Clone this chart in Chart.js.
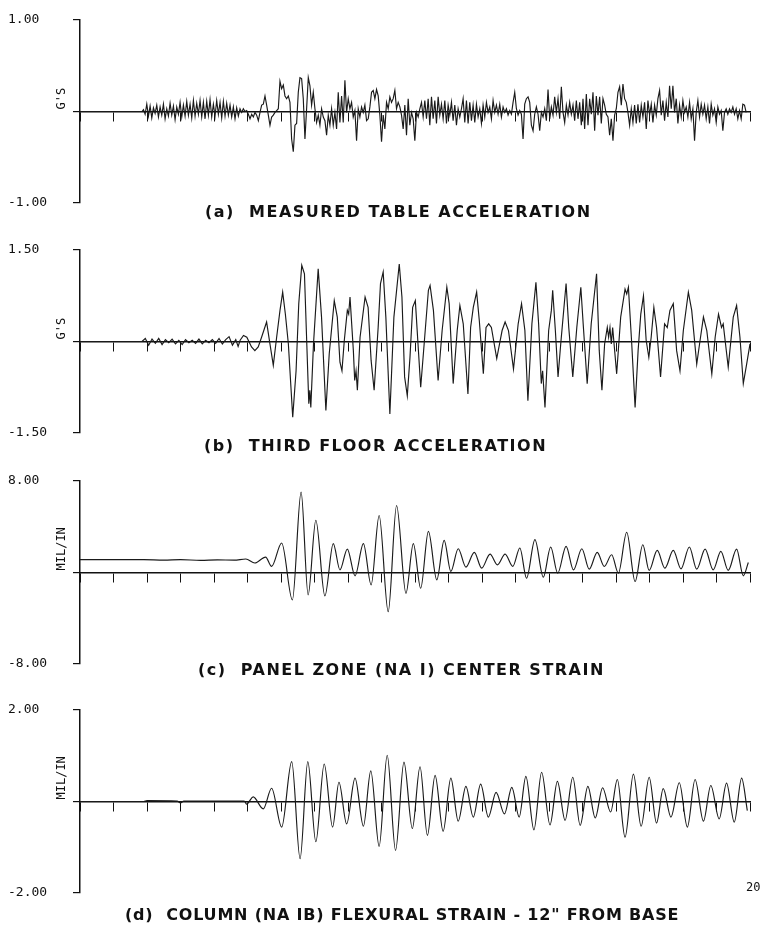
<!DOCTYPE html>
<html>
<head>
<meta charset="utf-8">
<script src="https://cdn.jsdelivr.net/npm/chart.js@4.4.0/dist/chart.umd.min.js"></script>
<style>
  body { margin: 0; background: #fff; width: 762px; height: 928px; position: relative; overflow: hidden; }
  canvas { position: absolute; left: 0; }
  .cap { position: absolute; font: bold 16px 'DejaVu Sans', sans-serif; letter-spacing: 1.5px; white-space: pre; color: #111; }
  .end { position: absolute; font: 12px 'DejaVu Sans Mono', monospace; color: #111; }
</style>
</head>
<body>
<canvas id="panelA" width="762" height="213" style="top:5px"></canvas>
<canvas id="panelB" width="762" height="213" style="top:235px"></canvas>
<canvas id="panelC" width="762" height="213" style="top:466px"></canvas>
<canvas id="panelD" width="762" height="213" style="top:695px"></canvas>
<div class="cap" style="left:205px;top:202px">(a)  MEASURED TABLE ACCELERATION</div>
<div class="cap" style="left:204px;top:436px">(b)  THIRD FLOOR ACCELERATION</div>
<div class="cap" style="left:198px;top:660px">(c)  PANEL ZONE (NA I) CENTER STRAIN</div>
<div class="cap" style="left:125px;top:905px;letter-spacing:0.8px">(d)  COLUMN (NA IB) FLEXURAL STRAIN - 12" FROM BASE</div>
<div class="end" style="left:746px;top:880px">20</div>
<script>
(() => {
    'use strict'

    // time axis (seconds)
    const T_MIN = 0
    const T_MAX = 20

    // (a) table acceleration, G's -- read as a record sampled every DT seconds
    const TABLE_LEAD = [[0, 0], [1.85, 0]]
    const TABLE_T0 = 1.894
    const TABLE_DT = 0.0497
    const TABLE_ACC = [
        0.02, -0.03, 0.08, -0.05, 0.06, -0.07, 0.04, -0.02, 0.07, -0.06,
        0.05, -0.04, 0.08, -0.08, 0.03, -0.05, 0.09, -0.04, 0.06, -0.09,
        0.05, -0.03, 0.10, -0.06, 0.07, -0.05, 0.11, -0.04, 0.08, -0.07,
        0.12, -0.05, 0.09, -0.03, 0.12, -0.06, 0.10, -0.08, 0.11, -0.04,
        0.13, -0.06, 0.08, -0.05, 0.12, -0.03, 0.10, -0.07, 0.11, -0.05,
        0.09, -0.04, 0.07, -0.06, 0.05, -0.08, 0.04, -0.05,
        0.03, -0.01, 0.03, 0, 0.01, -0.03, -0.08, -0.03, -0.06, -0.01,
        -0.04, -0.10, -0.01, 0.07, 0.08, 0.17, 0.07, -0.04, -0.15, -0.06,
        -0.04, -0.01, 0.01, 0.03, 0.33, 0.25, 0.29, 0.17, 0.14, 0.17,
        0.10, -0.30, -0.44, -0.15, -0.13, 0.21, 0.37, 0.36, 0.14, -0.30,
        0.03, 0.37, 0.28, 0.07, 0.21, 0.03, -0.12, -0.04, -0.15, 0.03,
        -0.06, -0.10, -0.26, -0.04, -0.15, 0.03, -0.15, -0.01, -0.19, 0.21,
        -0.12, 0.17, -0.12, 0.34, -0.01, 0.14, 0.03, 0.10, -0.06, 0.01,
        -0.32, 0.03, -0.06, 0.05, -0.01, 0.07, -0.10, -0.08, 0.05, 0.21,
        0.23, 0.14, 0.24, 0.17, -0.04, -0.33, -0.04, -0.19, 0.10, 0.03,
        0.16, 0.10, 0.14, 0.23, 0.03, 0.10, 0.05, -0.04, -0.19, 0.07,
        -0.26, 0.14, -0.15, -0.01, -0.08, -0.32, -0.01, -0.06, 0.03, 0.10,
        -0.06, 0.12, -0.08, 0.14, -0.15, 0.16, -0.08, 0.12, -0.13, 0.16,
        -0.04, 0.08, -0.08, 0.12, -0.13, 0.07, -0.04, 0.10, -0.10, 0.07,
        -0.15, 0.03, -0.06, 0.03, 0.14, -0.12, 0.12, -0.13, 0.10, -0.10,
        0.07, -0.12, 0.08, -0.06, 0.03, -0.13, 0.07, -0.06, 0.10, -0.01,
        0.05, -0.08, 0.12, -0.01, 0.07, -0.03, 0.08, -0.06, 0.05, -0.01,
        0.03, -0.04, 0.01, -0.03, 0.10, 0.21, 0.03, -0.04, 0.01, -0.03,
        -0.30, 0.08, 0.14, 0.16, 0.10, -0.15, -0.21, -0.03, 0.05, -0.03,
        -0.21, -0.01, -0.06, 0.03, -0.10, 0.24, -0.08, 0.05, -0.04, 0.16,
        -0.01, 0.14, -0.08, 0.27, -0.01, -0.12, 0.07, -0.04, 0.10, -0.03,
        0.07, -0.10, 0.12, -0.08, 0.10, -0.15, 0.14, -0.19, 0.19, -0.15,
        0.14, -0.03, 0.21, -0.21, 0.17, -0.04, 0.16, -0.13, 0.14, 0.07,
        -0.03, -0.06, -0.26, -0.08, -0.32, -0.04, 0.03, 0.21, 0.27, 0.07,
        0.30, 0.14, 0.10, -0.01, -0.15, 0.03, -0.12, 0.07, -0.13, 0.08,
        -0.12, 0.07, -0.06, 0.10, -0.19, 0.12, -0.04, 0.08, -0.12, 0.07,
        -0.04, 0.14, 0.23, -0.04, 0.12, -0.10, 0.10, -0.06, 0.28, 0.03,
        0.28, -0.01, 0.14, -0.13, 0.07, -0.06, 0.12, -0.01, 0.05, -0.06,
        0.10, -0.08, 0.03, -0.32, -0.01, 0.12, -0.06, 0.08, -0.03, 0.07,
        -0.08, 0.05, -0.13, 0.08, -0.04, 0.03, -0.12, 0.05, -0.03, 0.01,
        -0.21, -0.01, 0.03, -0.03, 0.03, -0.01, 0.05, -0.03, 0.03, -0.08,
        0.01, -0.08, 0.08, 0.07, -0.01,
    ]

    // (b) third floor acceleration, G's  [time, value]
    const FLOOR_ACC = [
        [0, 0], [1.85, 0], [1.95, 0.05], [2.05, -0.06], [2.15, 0.04], [2.25, -0.03], [2.35, 0.05], [2.45, -0.05],
        [2.55, 0.03], [2.65, -0.02], [2.75, 0.04], [2.85, -0.04], [2.95, 0.02], [3.05, -0.05], [3.15, 0.03],
        [3.25, -0.02], [3.35, 0.02], [3.45, -0.03], [3.55, 0.04], [3.65, -0.04], [3.75, 0.02], [3.85, -0.02],
        [3.95, 0.03], [4.05, -0.03], [4.15, 0.05], [4.25, -0.04], [4.35, 0.03], [4.45, 0.08], [4.55, -0.06],
        [4.65, 0.03], [4.72, -0.08],
        [4.78, 0.02], [4.88, 0.10], [4.98, 0.07], [5.12, -0.09], [5.22, -0.15], [5.32, -0.09], [5.42, 0.07], [5.57, 0.32], [5.67, -0.04], [5.77, -0.39],
        [5.87, 0.07], [5.97, 0.51], [6.05, 0.81], [6.13, 0.45], [6.22, -0.04], [6.35, -1.24], [6.45, -0.48], [6.53, 0.62], [6.62, 1.25], [6.70, 1.11],
        [6.77, -0.04], [6.83, -1.02], [6.86, -0.80], [6.89, -1.08], [6.97, -0.04], [7.11, 1.19], [7.21, 0.40], [7.34, -1.13], [7.44, -0.20], [7.59, 0.67],
        [7.68, 0.40], [7.76, -0.34], [7.82, -0.48], [7.89, 0.02], [7.98, 0.51], [8.02, 0.45], [8.06, 0.73], [8.16, -0.15], [8.20, -0.64], [8.24, -0.48],
        [8.28, -0.80], [8.36, 0.07], [8.51, 0.73], [8.60, 0.56], [8.69, -0.31], [8.78, -0.80], [8.90, 0.23], [8.97, 0.95], [9.05, 1.14], [9.13, 0.40],
        [9.25, -1.19], [9.37, 0.40], [9.53, 1.27], [9.61, 0.73], [9.69, -0.58], [9.77, -0.89], [9.85, -0.26], [9.93, 0.56], [10.01, 0.67], [10.09, -0.04],
        [10.17, -0.75], [10.25, -0.20], [10.40, 0.84], [10.45, 0.92], [10.55, 0.51], [10.69, -0.64], [10.81, 0.18], [10.95, 0.89], [11.02, 0.62], [11.14, -0.69],
        [11.26, 0.18], [11.34, 0.59], [11.44, 0.29], [11.58, -0.86], [11.66, 0.23], [11.74, 0.56], [11.84, 0.81], [11.92, 0.34], [12.04, -0.53], [12.12, 0.23],
        [12.20, 0.29], [12.28, 0.23], [12.44, -0.28], [12.60, 0.18], [12.69, 0.32], [12.79, 0.18], [12.94, -0.45], [13.08, 0.29], [13.18, 0.62], [13.28, 0.18],
        [13.37, -0.97], [13.49, 0.29], [13.61, 0.97], [13.69, 0.29], [13.77, -0.69], [13.81, -0.48], [13.88, -1.08], [13.99, 0.18], [14.07, 0.51], [14.11, 0.84],
        [14.19, 0.18], [14.27, -0.58], [14.35, -0.04], [14.51, 0.95], [14.59, 0.23], [14.71, -0.58], [14.83, 0.23], [14.95, 0.89], [15.02, 0.29], [15.14, -0.69],
        [15.26, 0.29], [15.34, 0.70], [15.42, 1.11], [15.50, -0.15], [15.58, -0.80], [15.66, -0.04], [15.74, 0.23], [15.78, 0.07], [15.82, 0.23], [15.86, -0.04],
        [15.90, 0.23], [16.02, -0.53], [16.14, 0.40], [16.27, 0.86], [16.32, 0.78], [16.37, 0.89], [16.47, -0.04], [16.57, -1.08], [16.66, -0.15], [16.74, 0.45],
        [16.82, 0.75], [16.90, 0.02], [16.98, -0.26], [17.05, 0.07], [17.13, 0.56], [17.21, 0.23], [17.33, -0.58], [17.45, 0.29], [17.53, 0.23], [17.61, 0.51],
        [17.71, 0.62], [17.81, -0.15], [17.91, -0.48], [18.01, 0.18], [18.16, 0.81], [18.26, 0.51], [18.41, -0.37], [18.51, 0.02], [18.61, 0.40], [18.71, 0.18],
        [18.86, -0.53], [18.96, 0.07], [19.06, 0.45], [19.15, 0.23], [19.20, 0.29], [19.35, -0.42], [19.50, 0.40], [19.60, 0.59], [19.70, 0.07], [19.80, -0.69],
        [19.90, -0.37], [20.00, -0.04],
    ]

    // (c) panel zone center strain, mil/in  [time, value] at peaks and troughs
    const PANEL_STRAIN = [
        [0, 1.12], [1.9, 1.12], [2.5, 1.08], [3.0, 1.12], [3.6, 1.06], [4.1, 1.10], [4.6, 1.08], [4.95, 1.18],
        [5.22, 0.83], [5.54, 1.35], [5.72, 0.53], [6.02, 2.58], [6.34, -2.40], [6.60, 7.03], [6.81, -1.96], [7.04, 4.57],
        [7.31, -2.05], [7.56, 2.52], [7.76, 0.23], [7.98, 2.05], [8.21, -0.29], [8.46, 2.52], [8.69, -1.08], [8.93, 4.98],
        [9.20, -3.43], [9.45, 5.86], [9.73, -1.82], [9.95, 2.52], [10.17, -1.38], [10.40, 3.60], [10.65, -0.64], [10.87, 2.81],
        [11.07, 0.09], [11.29, 2.08], [11.52, 0.47], [11.77, 1.76], [11.99, 0.38], [12.24, 1.61], [12.46, 0.67], [12.69, 1.61],
        [12.92, 0.53], [13.13, 2.14], [13.33, -0.50], [13.58, 2.87], [13.83, -0.41], [14.05, 2.23], [14.26, -0.06], [14.51, 2.29],
        [14.73, 0.23], [14.98, 2.08], [15.20, 0.29], [15.44, 1.76], [15.65, 0.53], [15.87, 1.55], [16.07, -0.06], [16.32, 3.52],
        [16.57, -0.79], [16.80, 2.43], [16.99, 0.18], [17.23, 1.93], [17.46, 0.38], [17.71, 1.93], [17.94, 0.32], [18.19, 2.23],
        [18.41, 0.29], [18.66, 2.05], [18.90, 0.23], [19.13, 1.85], [19.35, 0.18], [19.60, 2.05], [19.80, -0.29], [19.95, 0.88],
    ]

    // (d) column flexural strain 12" from base, mil/in  [time, value]
    const COLUMN_STRAIN = [
        [0, 0], [1.9, 0], [2.0, 0.02], [2.9, 0.01], [3.0, -0.03], [3.1, 0.01], [4.0, 0.01], [4.9, 0.01], [4.98, -0.06], [5.05, 0],
        [5.17, 0.10], [5.47, -0.16], [5.72, 0.29], [6.02, -0.56], [6.32, 0.87], [6.57, -1.25], [6.80, 0.87], [7.04, -0.88],
        [7.29, 0.82], [7.54, -0.56], [7.73, 0.42], [7.96, -0.49], [8.21, 0.51], [8.46, -0.54], [8.68, 0.67], [8.93, -0.98],
        [9.17, 1.01], [9.42, -1.07], [9.67, 0.86], [9.92, -0.59], [10.15, 0.76], [10.37, -0.74], [10.60, 0.57], [10.84, -0.65],
        [11.07, 0.51], [11.29, -0.43], [11.52, 0.33], [11.74, -0.34], [11.96, 0.38], [12.19, -0.34], [12.42, 0.20], [12.67, -0.27],
        [12.89, 0.31], [13.11, -0.34], [13.31, 0.55], [13.55, -0.62], [13.78, 0.64], [14.03, -0.51], [14.25, 0.44], [14.48, -0.41],
        [14.71, 0.53], [14.93, -0.52], [15.16, 0.33], [15.38, -0.36], [15.60, 0.30], [15.84, -0.23], [16.04, 0.48], [16.27, -0.78],
        [16.52, 0.60], [16.75, -0.54], [16.99, 0.53], [17.21, -0.47], [17.41, 0.28], [17.64, -0.34], [17.89, 0.41], [18.13, -0.56],
        [18.36, 0.48], [18.61, -0.43], [18.83, 0.35], [19.08, -0.38], [19.30, 0.40], [19.53, -0.45], [19.75, 0.51], [19.92, -0.20],
    ]

    const Y_LIMITS = [1.0, 1.5, 8.0, 2.0]
    const UNITS = ["G'S", "G'S", 'MIL/IN', 'MIL/IN']

    const INK = '#111'

    // rotated unit label, sitting just above the zero line
    const unitLabel = {
        id: 'unitLabel',
        afterDraw(chart, args, opts) {
            const ctx = chart.ctx
            const y0 = chart.scales.y.getPixelForValue(0)
            ctx.save()
            ctx.translate(62, y0 - 2)
            ctx.rotate(-Math.PI / 2)
            ctx.font = '12px "DejaVu Sans Mono", monospace'
            ctx.fillStyle = INK
            ctx.textAlign = 'left'
            ctx.textBaseline = 'middle'
            ctx.fillText(opts.text, 0, 0)
            ctx.restore()
        },
    }

    function toPoints(pairs) {
        return pairs.map(([t, v]) => ({x: t, y: v}))
    }

    function tablePoints() {
        const rec = TABLE_ACC.map((v, i) => ({x: TABLE_T0 + i * TABLE_DT, y: v}))
        return [...toPoints(TABLE_LEAD), ...rec]
    }

    function makePanel(id, points, limit, unit, smooth) {
        new Chart(document.getElementById(id), {
            type: 'line',
            data: {
                datasets: [{
                    data: points,
                    borderColor: '#1a1a1a',
                    borderWidth: 1.15,
                    pointRadius: 0,
                    fill: false,
                    tension: 0,
                    cubicInterpolationMode: smooth ? 'monotone' : 'default',
                }],
            },
            options: {
                responsive: false,
                animation: false,
                events: [],
                layout: {padding: {left: 8, right: 12, top: 15, bottom: 15}},
                plugins: {
                    legend: {display: false},
                    tooltip: {enabled: false},
                    unitLabel: {text: unit},
                },
                scales: {
                    x: {
                        type: 'linear',
                        min: T_MIN,
                        max: T_MAX,
                        position: {y: 0},
                        ticks: {display: false, stepSize: 1},
                        grid: {drawOnChartArea: false, drawTicks: true, tickLength: 9, color: INK, lineWidth: 1},
                        border: {display: true, color: INK, width: 1.5},
                    },
                    y: {
                        min: -limit,
                        max: limit,
                        afterBuildTicks: (scale) => {
                            scale.ticks = [{value: -limit}, {value: 0}, {value: limit}]
                        },
                        afterFit: (scale) => {
                            scale.width = 72
                        },
                        ticks: {
                            autoSkip: false,
                            crossAlign: 'far',
                            color: INK,
                            font: {family: '"DejaVu Sans Mono", monospace', size: 13},
                            callback: (value) => value === 0 ? '' : value.toFixed(2),
                        },
                        grid: {drawOnChartArea: false, drawTicks: true, tickLength: 7, color: INK, lineWidth: 1.2},
                        border: {display: true, color: INK, width: 1.5},
                    },
                },
            },
            plugins: [unitLabel],
        })
    }

    makePanel('panelA', tablePoints(), Y_LIMITS[0], UNITS[0], false)
    makePanel('panelB', toPoints(FLOOR_ACC), Y_LIMITS[1], UNITS[1], false)
    makePanel('panelC', toPoints(PANEL_STRAIN), Y_LIMITS[2], UNITS[2], true)
    makePanel('panelD', toPoints(COLUMN_STRAIN), Y_LIMITS[3], UNITS[3], true)
})()
</script>
</body>
</html>
